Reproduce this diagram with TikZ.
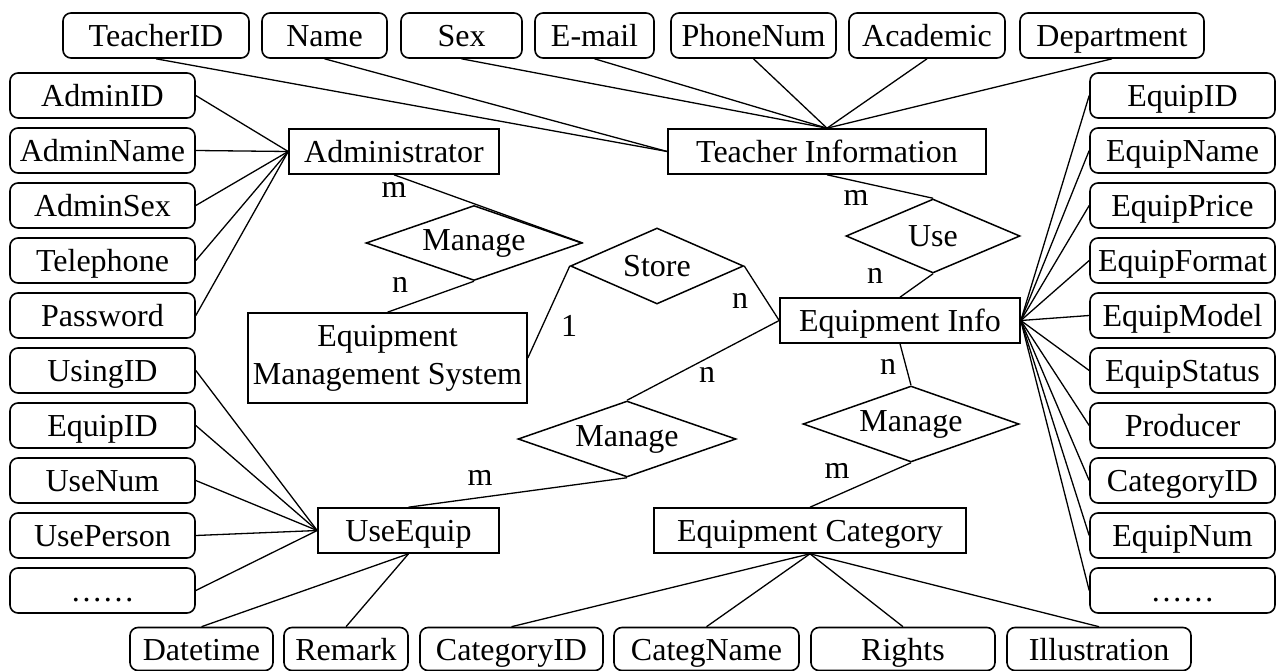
\documentclass[tikz,border=0pt]{standalone}
\usepackage{fontspec}
\setmainfont{Liberation Serif}
\usetikzlibrary{shapes.geometric}
\begin{document}
\begin{tikzpicture}[x=1pt,y=-1pt,
  every node/.style={font=\fontsize{32}{38}\selectfont, inner sep=0pt},
  txt/.style={text height=26pt, text depth=4pt},
  attr/.style={draw, txt, rounded corners=8pt, line width=1.6pt, minimum height=45pt},
  ent/.style={draw, line width=1.6pt, minimum height=45pt},
  rel/.style={draw, diamond, line width=1.5pt, shape aspect=2.8},
  conn/.style={line width=1.3pt}]
\useasboundingbox (0,0) rectangle (1276,671);

% entities
\node[ent, txt, minimum width=210pt] (adm) at (394,151.5) {Administrator};
\node[ent, txt, minimum width=318pt] (ti) at (827,151.5) {Teacher Information};
\node[ent, minimum width=279pt, minimum height=90pt, align=center] (ems) at (387.5,358) {Equipment\\Management System};
\node[ent, txt, minimum width=240pt] (ei) at (900,320.5) {Equipment Info};
\node[ent, txt, minimum width=181pt] (ue) at (408.5,530.5) {UseEquip};
\node[ent, txt, minimum width=312pt] (ec) at (810,530.5) {Equipment Category};

% relationships
\node[rel, minimum width=216pt, minimum height=75pt] (m1) at (474,243) {Manage};
\node[rel, minimum width=173pt, minimum height=76pt] (st) at (657,266) {Store};
\node[rel, minimum width=174pt, minimum height=74pt] (use) at (933,236) {Use};
\node[rel, minimum width=218pt, minimum height=76pt] (m2) at (627,439) {Manage};
\node[rel, minimum width=216pt, minimum height=76pt] (m3) at (911,424) {Manage};

% top row
\node[attr, minimum width=186pt] (tid) at (156,35.5) {TeacherID};
\node[attr, minimum width=125pt] (tname) at (324.5,35.5) {Name};
\node[attr, minimum width=121pt] (tsex) at (461.5,35.5) {Sex};
\node[attr, minimum width=119pt] (tmail) at (594.5,35.5) {E-mail};
\node[attr, minimum width=165pt] (tphone) at (753.5,35.5) {PhoneNum};
\node[attr, minimum width=156pt] (tacad) at (927,35.5) {Academic};
\node[attr, minimum width=184pt] (tdep) at (1112,35.5) {Department};

% left column
\node[attr, minimum width=185pt] (a1) at (102.5,95.5) {AdminID};
\node[attr, minimum width=185pt] (a2) at (102.5,150.5) {AdminName};
\node[attr, minimum width=185pt] (a3) at (102.5,205.5) {AdminSex};
\node[attr, minimum width=185pt] (a4) at (102.5,260.5) {Telephone};
\node[attr, minimum width=185pt] (a5) at (102.5,315.5) {Password};
\node[attr, minimum width=185pt] (u1) at (102.5,370.5) {UsingID};
\node[attr, minimum width=185pt] (u2) at (102.5,425.5) {EquipID};
\node[attr, minimum width=185pt] (u3) at (102.5,480.5) {UseNum};
\node[attr, minimum width=185pt] (u4) at (102.5,535.5) {UsePerson};
\node[attr, minimum width=185pt] (u5) at (102.5,590.5) {……};

% right column
\node[attr, minimum width=185pt] (e1) at (1182.5,95.5) {EquipID};
\node[attr, minimum width=185pt] (e2) at (1182.5,150.5) {EquipName};
\node[attr, minimum width=185pt] (e3) at (1182.5,205.5) {EquipPrice};
\node[attr, minimum width=185pt] (e4) at (1182.5,260.5) {EquipFormat};
\node[attr, minimum width=185pt] (e5) at (1182.5,315.5) {EquipModel};
\node[attr, minimum width=185pt] (e6) at (1182.5,370.5) {EquipStatus};
\node[attr, minimum width=185pt] (e7) at (1182.5,425.5) {Producer};
\node[attr, minimum width=185pt] (e8) at (1182.5,480.5) {CategoryID};
\node[attr, minimum width=185pt] (e9) at (1182.5,535.5) {EquipNum};
\node[attr, minimum width=185pt] (e10) at (1182.5,590.5) {……};

% bottom row
\node[attr, minimum width=143pt, minimum height=43pt] (b1) at (201.5,649) {Datetime};
\node[attr, minimum width=124pt, minimum height=43pt] (b2) at (346,649) {Remark};
\node[attr, minimum width=183pt, minimum height=43pt] (b3) at (511.5,649) {CategoryID};
\node[attr, minimum width=185pt, minimum height=43pt] (b4) at (706.5,649) {CategName};
\node[attr, minimum width=184pt, minimum height=43pt] (b5) at (903,649) {Rights};
\node[attr, minimum width=184pt, minimum height=43pt] (b6) at (1099,649) {Illustration};

% attribute connectors
\foreach \n in {tid,tname} \draw[conn] (\n.south) -- (ti.west);
\foreach \n in {tsex,tmail,tphone,tacad,tdep} \draw[conn] (\n.south) -- (ti.north);
\foreach \n in {a1,a2,a3,a4,a5} \draw[conn] (\n.east) -- (adm.west);
\foreach \n in {u1,u2,u3,u4,u5} \draw[conn] (\n.east) -- (ue.west);
\foreach \n in {e1,e2,e3,e4,e5,e6,e7,e8,e9,e10} \draw[conn] (\n.west) -- (ei.east);
\foreach \n in {b1,b2} \draw[conn] (\n.north) -- (ue.south);
\foreach \n in {b3,b4,b5,b6} \draw[conn] (\n.north) -- (ec.south);

% relationship connectors
\draw[conn] (adm.south) -- (m1.east);
\draw[conn] (m1.south) -- (ems.north);
\draw[conn] (ems.east) -- (st.west);
\draw[conn] (st.east) -- (ei.west);
\draw[conn] (ti.south) -- (use.north);
\draw[conn] (use.south) -- (ei.north);
\draw[conn] (ei.west) -- (m2.north);
\draw[conn] (m2.south) -- (ue.north);
\draw[conn] (ei.south) -- (m3.north);
\draw[conn] (m3.south) -- (ec.north);

% cardinalities
\node (c1) at (394,190) {m};
\node (c2) at (400,285) {n};
\node (c3) at (569,326) {1};
\node (c4) at (740,301) {n};
\node (c5) at (856,198) {m};
\node (c6) at (875,276) {n};
\node (c7) at (707,375) {n};
\node (c8) at (888,367) {n};
\node (c9) at (480,478) {m};
\node (c10) at (837,471) {m};
\end{tikzpicture}
\end{document}
